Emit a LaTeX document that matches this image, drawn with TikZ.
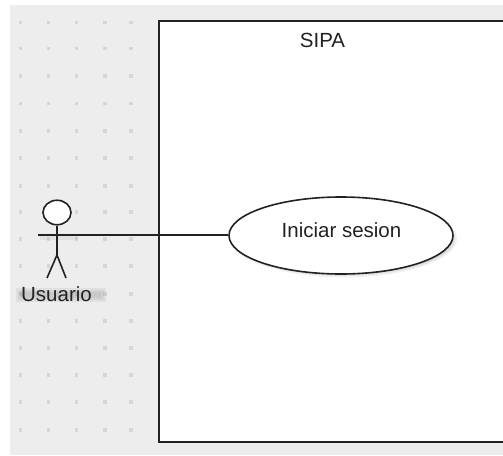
\documentclass[tikz,border=0pt]{standalone}
\usepackage{fontspec}
\usetikzlibrary{shapes.geometric}
\setmainfont{Liberation Sans}
\definecolor{bggrey}{HTML}{EDEDED}
\definecolor{dotgrey}{HTML}{D6D6D6}
\definecolor{inkc}{HTML}{222222}
\tikzset{
  x=1pt,y=-1pt,
  lbl/.style={inner sep=0pt,font=\fontsize{20.5}{22}\selectfont,text=inkc},
  ln/.style={draw=inkc,line width=1.6pt},
  griddot/.style={fill=dotgrey,draw=none},
  softshadow/.style={fill=black,draw=none,opacity=0.05}
}
\begin{document}
\begin{tikzpicture}
\useasboundingbox (0,0) rectangle (503,455);
\fill[white] (0,0) rectangle (503,455);
\fill[bggrey] (10,5) rectangle (503,455);
% dot grid
\foreach \px in {20.5,48.5,76.5,105,131}
  \foreach \py in {22.5,48.5,76,103.5,131,158,186,212,239,266,294,321,348,375,402,430}
    \fill[griddot] (\px-1.7,\py-1.7) rectangle (\px+1.7,\py+1.7);
% system box
\fill[white] (158.5,20.5) rectangle (503,442);
\draw[ln,line width=2pt] (503,20.5) -- (158.5,20.5) -- (158.5,442) -- (503,442);
\node[lbl] (sipa) at (322.5,40) {SIPA};
% label shadow
\foreach \d in {0,2,4}
  \fill[softshadow] (16+\d,288+\d) rectangle (106-\d,302-\d);
% arm shadow
\fill[softshadow] (40,236) rectangle (78,240);
% use case shadow
\foreach \d in {0,1.5,3}
  \fill[softshadow] (344,238.5) ellipse ({113-\d} and {39-\d});
\node[draw=inkc,line width=1.6pt,ellipse,minimum width=224pt,minimum height=77pt,inner sep=0pt,fill=white] (uc) at (341,235.5) {};
\node[lbl] (uctext) at (341.5,230) {Iniciar sesion};
% actor
\node[draw=inkc,line width=1.6pt,ellipse,minimum width=28pt,minimum height=24.5pt,inner sep=0pt,fill=white] (head) at (57,212.5) {};
\coordinate (hip) at (57,255);
\coordinate (armL) at (38,235);
\coordinate (legL) at (47,278);
\coordinate (legR) at (66,278);
\draw[ln] (head.south) -- (hip);
\draw[ln] (hip) -- (legL);
\draw[ln] (hip) -- (legR);
\draw[ln] (armL) -- (uc.west |- armL);
\node[lbl] (usuario) at (56.5,294) {Usuario};
\end{tikzpicture}
\end{document}
